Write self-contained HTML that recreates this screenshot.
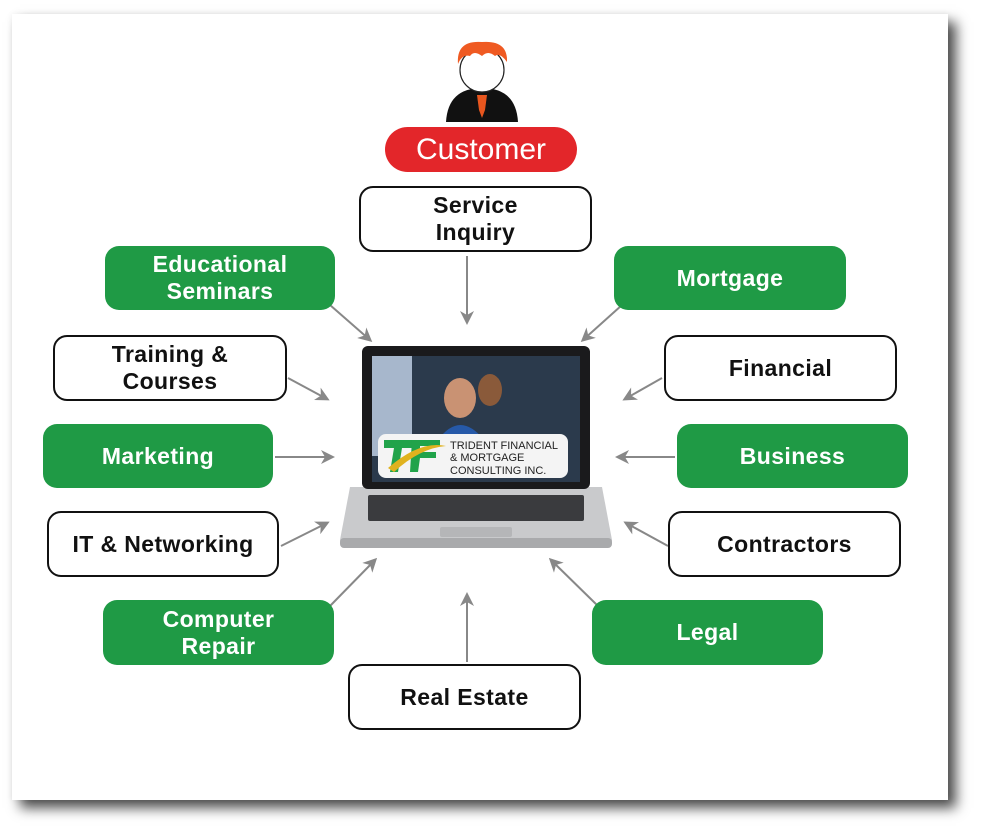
<!DOCTYPE html>
<html><head><meta charset="utf-8"><style>
body{margin:0;width:984px;height:837px;background:#fff;position:relative;overflow:hidden;font-family:"Liberation Sans",Arial,sans-serif}
.card{position:absolute;left:12px;top:14px;width:936px;height:786px;background:#fff;box-shadow:8px 8px 12px rgba(0,0,0,.7),0 0 6px rgba(0,0,0,.06)}
.b{position:absolute;box-sizing:border-box;border-radius:14px;display:flex;align-items:center;justify-content:center;text-align:center;font-weight:bold;font-size:23px;line-height:27px;letter-spacing:.4px}
.g{background:#1f9a45;color:#fff}
.w{background:#fff;border:2.5px solid #111;color:#111}
svg{position:absolute;left:0;top:0}
</style></head><body>
<div class="card"></div>
<svg width="984" height="837">
<defs><marker id="a" markerWidth="14" markerHeight="14" refX="11" refY="7" orient="auto" markerUnits="userSpaceOnUse"><path d="M0,0 L14,7 L0,14 L4,7z" fill="#888"/></marker></defs>
<g stroke="#888" stroke-width="2" marker-end="url(#a)">
<line x1="467" y1="256" x2="467" y2="322"/>
<line x1="330" y1="305" x2="370" y2="340"/>
<line x1="622" y1="305" x2="583" y2="340"/>
<line x1="288" y1="378" x2="327" y2="399"/>
<line x1="662" y1="378" x2="625" y2="399"/>
<line x1="275" y1="457" x2="332" y2="457"/>
<line x1="675" y1="457" x2="618" y2="457"/>
<line x1="281" y1="546" x2="327" y2="523"/>
<line x1="668" y1="546" x2="626" y2="523"/>
<line x1="330" y1="606" x2="375" y2="560"/>
<line x1="598" y1="606" x2="551" y2="560"/>
<line x1="467" y1="662" x2="467" y2="595"/>
</g>
<!-- person -->
<path d="M446,122 Q448,88 482,88 Q516,88 518,122 Z" fill="#111"/>
<path d="M477,95 L487,95 L485,110 L482,118 L479,110 Z" fill="#e8561e"/>
<circle cx="482" cy="70" r="22" fill="#fff" stroke="#222" stroke-width="1.2"/>
<path d="M458,64 Q456,40 482,42 Q508,40 507,62 Q500,52 495,56 Q488,50 482,56 Q474,50 470,56 Q462,54 458,64Z" fill="#ef5a22"/>
<!-- laptop -->
<path d="M350,487 L602,487 L612,540 Q612,548 602,548 L350,548 Q340,548 340,540 Z" fill="#c9cacc"/>
<rect x="340" y="538" width="272" height="10" rx="4" fill="#a9aaac"/>
<rect x="368" y="495" width="216" height="26" rx="2" fill="#3a3b3e"/>
<rect x="440" y="527" width="72" height="10" rx="2" fill="#b5b6b8"/>
<rect x="362" y="346" width="228" height="143" rx="6" fill="#1a1a1c"/>
<rect x="372" y="356" width="208" height="126" fill="#2b3a4c"/>
<rect x="372" y="356" width="40" height="100" fill="#a7b7cc"/>
<ellipse cx="460" cy="398" rx="16" ry="20" fill="#c99273"/>
<path d="M438,440 Q460,410 484,440 Z" fill="#2659a8"/>
<ellipse cx="490" cy="390" rx="12" ry="16" fill="#8a5a3a"/>
<rect x="378" y="434" width="190" height="44" rx="8" fill="#f4f4f4"/>
<path d="M384,440 L412,440 L412,448 L402,448 L398,472 L390,472 L394,448 L384,448 Z" fill="#21a34a"/>
<path d="M412,440 L440,440 L440,446 L420,446 L420,452 L436,452 L436,458 L420,458 L418,472 L410,472 Z" fill="#21a34a"/>
<path d="M388,468 Q420,440 446,446 Q420,448 394,472 Z" fill="#e0b21e"/>
<text x="450" y="449" font-size="11" fill="#222">TRIDENT FINANCIAL</text>
<text x="450" y="461" font-size="11" fill="#222">&amp; MORTGAGE</text>
<text x="450" y="474" font-size="11" fill="#222">CONSULTING INC.</text>
</svg>
<div class="b" style="left:385px;top:127px;width:192px;height:45px;background:#e3262a;color:#fff;border-radius:23px;font-size:30px;font-weight:normal;letter-spacing:0">Customer</div>
<div class="b w" style="left:359px;top:186px;width:233px;height:66px">Service<br>Inquiry</div>
<div class="b g" style="left:105px;top:246px;width:230px;height:64px">Educational<br>Seminars</div>
<div class="b g" style="left:614px;top:246px;width:232px;height:64px">Mortgage</div>
<div class="b w" style="left:53px;top:335px;width:234px;height:66px">Training &amp;<br>Courses</div>
<div class="b w" style="left:664px;top:335px;width:233px;height:66px">Financial</div>
<div class="b g" style="left:43px;top:424px;width:230px;height:64px">Marketing</div>
<div class="b g" style="left:677px;top:424px;width:231px;height:64px">Business</div>
<div class="b w" style="left:47px;top:511px;width:232px;height:66px">IT &amp; Networking</div>
<div class="b w" style="left:668px;top:511px;width:233px;height:66px">Contractors</div>
<div class="b g" style="left:103px;top:600px;width:231px;height:65px">Computer<br>Repair</div>
<div class="b g" style="left:592px;top:600px;width:231px;height:65px">Legal</div>
<div class="b w" style="left:348px;top:664px;width:233px;height:66px">Real Estate</div>
</body></html>
